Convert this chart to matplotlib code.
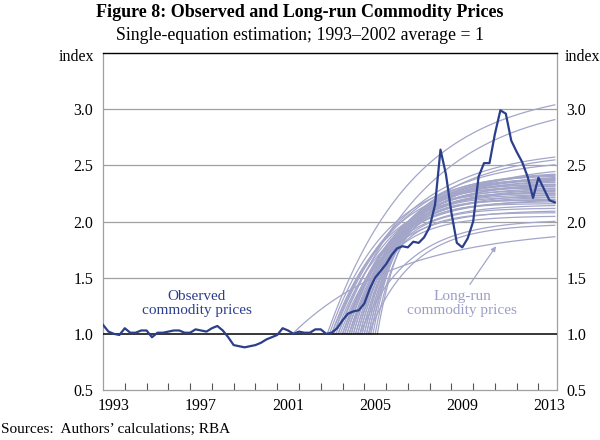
import numpy as np
import matplotlib
matplotlib.use("Agg")
import matplotlib.pyplot as plt

# observed commodity prices, quarterly from 1993 Q1
obs_start = 1993.0
obs_values = [
    1.08, 1.02, 1.00, 0.99, 1.05, 1.01, 1.01, 1.03, 1.03, 0.97,
    1.01, 1.01, 1.02, 1.03, 1.03, 1.01, 1.01, 1.04, 1.03, 1.02,
    1.05, 1.07, 1.03, 0.97, 0.90, 0.89, 0.88, 0.89, 0.90, 0.92,
    0.95, 0.97, 0.99, 1.05, 1.03, 1.00, 1.02, 1.01, 1.01, 1.04,
    1.04, 1.00, 1.01, 1.05, 1.12, 1.18, 1.20, 1.21, 1.27, 1.40,
    1.50, 1.56, 1.62, 1.70, 1.76, 1.78, 1.77, 1.82, 1.81, 1.86,
    1.95, 2.15, 2.64, 2.42, 2.08, 1.81, 1.77, 1.85, 2.00, 2.40,
    2.52, 2.52, 2.78, 2.99, 2.96, 2.72, 2.62, 2.53, 2.40, 2.21,
    2.39, 2.29, 2.19, 2.17,
]

# long-run estimates: year each path leaves 1.0, level it heads to, speed
lr_start = [
    2003.3, 2003.8, 2001.7, 2003.5, 2004.0, 2003.6, 2004.3,
    2003.4, 2003.5, 2003.6, 2003.7, 2003.8, 2003.9, 2004.0, 2004.0, 2004.1, 2004.1,
    2004.2, 2004.2, 2004.3, 2004.3, 2004.4, 2004.4, 2004.5, 2004.5, 2004.6, 2004.6,
    2004.7, 2004.7, 2004.8, 2004.8, 2004.9, 2004.9, 2005.0, 2005.0, 2005.1, 2005.1,
    2005.2, 2005.2, 2005.3, 2005.3, 2005.4, 2005.5, 2005.6, 2004.8, 2005.2,
]
lr_level = [
    3.20, 3.10, 1.95, 2.65, 2.62, 2.56, 2.50,
    2.45, 2.30, 2.40, 2.20, 2.35, 2.10, 2.42, 2.25, 2.38, 2.15,
    2.33, 2.44, 2.28, 2.05, 2.40, 2.22, 2.36, 2.18, 2.30, 2.43,
    2.12, 2.34, 2.26, 2.39, 2.20, 2.08, 2.32, 2.41, 2.24, 2.16,
    2.37, 2.28, 2.22, 2.33, 2.30, 2.19, 2.25, 2.02, 1.98,
]
lr_rate = [
    0.25, 0.24, 0.20, 0.30, 0.32, 0.33, 0.35,
    0.38, 0.42, 0.40, 0.45, 0.42, 0.50, 0.40, 0.46, 0.44, 0.52,
    0.48, 0.42, 0.50, 0.58, 0.47, 0.55, 0.52, 0.60, 0.56, 0.48,
    0.65, 0.58, 0.62, 0.55, 0.68, 0.72, 0.64, 0.58, 0.70, 0.76,
    0.66, 0.72, 0.78, 0.74, 0.80, 0.88, 0.90, 0.45, 0.50,
]

year_labels = [1993, 1997, 2001, 2005, 2009, 2013]
y_ticks = [0.5, 1.0, 1.5, 2.0, 2.5, 3.0]

dark_blue = "#2b3f8c"
light_purple = "#a3a6c9"

plt.rcParams["font.family"] = ["Liberation Serif", "DejaVu Serif"]

fig = plt.figure(figsize=(6, 4.4), dpi=100)
ax = fig.add_axes([0.1717, 0.1136, 0.7566, 0.7659])

t_obs = obs_start + 0.25 * np.arange(len(obs_values))
t_end = t_obs[-1]

for t0, lev, k in zip(lr_start, lr_level, lr_rate):
    tt = np.linspace(t0, t_end, 200)
    yy = 1 + (lev - 1) * (1 - np.exp(-k * (tt - t0)))
    ax.plot(tt, yy, color=light_purple, lw=0.9, zorder=2)

ax.axhline(1.0, color="black", lw=1.1, zorder=3)
ax.plot(t_obs, obs_values, color=dark_blue, lw=1.6, zorder=4)

for g in [1.5, 2.0, 2.5, 3.0]:
    ax.axhline(g, color="#a0a0a0", lw=0.9, zorder=1)

ax.set_xlim(1993.0, 2013.85)
ax.set_ylim(0.5, 3.5)

ax.set_xticks(np.arange(1994, 2014))
ax.set_xticklabels([])
ax.set_xticks([y + 0.5 for y in year_labels], minor=True)
ax.set_xticklabels([str(y) for y in year_labels], minor=True)
ax.tick_params(axis="x", which="major", direction="in", length=5, color="#555555", width=0.8)
ax.tick_params(axis="x", which="minor", length=0, labelsize=11.5, pad=6)

ax.set_yticks(y_ticks)
ax.set_yticklabels([f"{v:.1f}" for v in y_ticks])
ax.tick_params(axis="y", length=0, labelsize=11.5, labelright=True, pad=7)

for side in ["left", "right", "bottom"]:
    ax.spines[side].set_color("#a0a0a0")
    ax.spines[side].set_linewidth(0.9)
ax.spines["top"].set_color("black")
ax.spines["top"].set_linewidth(1.0)

ax.text(-0.02, 0.988, "index", transform=ax.transAxes, ha="right", va="center", fontsize=11.5)
ax.text(1.018, 0.988, "index", transform=ax.transAxes, ha="left", va="center", fontsize=11.5)

ax.text(1997.3, 1.27, "Observed\ncommodity prices", color=dark_blue, ha="center",
        va="center", fontsize=11, linespacing=1.05)
ax.text(2009.5, 1.27, "Long-run\ncommodity prices", color="#9c9fc6", ha="center",
        va="center", fontsize=11, linespacing=1.05)
ax.annotate("", xy=(2011.05, 1.78), xytext=(2009.85, 1.44),
            arrowprops=dict(arrowstyle="-|>", color=light_purple, lw=0.9,
                            mutation_scale=7, shrinkA=0, shrinkB=0))

fig.text(0.5, 0.972, "Figure 8: Observed and Long-run Commodity Prices", ha="center",
         va="center", fontsize=13, fontweight="bold")
fig.text(0.5, 0.92, "Single-equation estimation; 1993\u20132002 average = 1", ha="center",
         va="center", fontsize=12.8)
fig.text(0.002, 0.023, "Sources:  Authors\u2019 calculations; RBA", ha="left",
         va="center", fontsize=11)

fig.savefig("out.png", dpi=100)
